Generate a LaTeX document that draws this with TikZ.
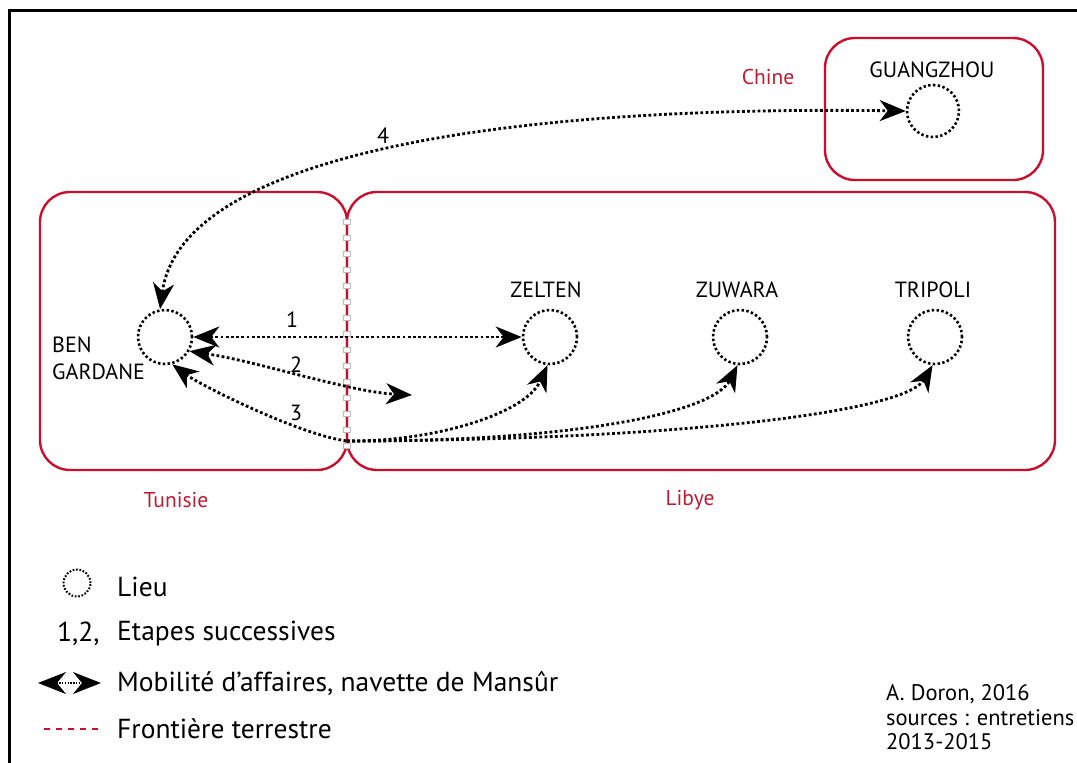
\documentclass[tikz,border=0pt]{standalone}
\usepackage{fontspec}
\setmainfont{PT Sans}
\usetikzlibrary{arrows.meta}
\definecolor{bred}{RGB}{200,16,46}
\definecolor{lred}{RGB}{185,30,52}
\begin{document}
\begin{tikzpicture}[x=1pt,y=-1pt,
  regionbox/.style={draw=bred, line width=2.4pt, rounded corners=30pt, rectangle, inner sep=0pt},
  place/.style={circle, draw, line width=2.6pt, dash pattern=on 2.4pt off 2.4pt, minimum size=54pt, inner sep=0pt},
  mob/.style={line width=2.8pt, dash pattern=on 2.8pt off 2.4pt},
  bigtip/.tip={Stealth[length=26pt,width=21pt,inset=8pt]},
  bsq/.style={rectangle, draw=gray!55, fill=white, line width=0.4pt, minimum width=7pt, minimum height=5pt, inner sep=0pt},
  lbl/.style={font=\fontsize{22}{26}\selectfont, inner sep=0pt},
  rlbl/.style={font=\fontsize{21.5}{26}\selectfont, text=lred, inner sep=0pt},
  leg/.style={font=\fontsize{27.5}{32}\selectfont, inner sep=0pt, anchor=west},
  cred/.style={font=\fontsize{22.5}{26}\selectfont, inner sep=0pt, anchor=west}
]
\useasboundingbox (0,0) rectangle (1077,763);
% frame
\draw[line width=3pt] (9,763) -- (9,10) -- (1077,10);

% regions
\node[regionbox, minimum width=307pt, minimum height=278pt] (tun) at (193.5,331) {};
\node[regionbox, minimum width=708pt, minimum height=278pt] (lib) at (701,331) {};
\node[regionbox, minimum width=218pt, minimum height=142pt] (chn) at (934,109) {};
\foreach \yy in {222,238,...,446} \node[bsq] at (347,\yy) {};

\node[rlbl] (tchine) at (768,77) {Chine};
\node[rlbl] (ttun) at (176,500) {Tunisie};
\node[rlbl] (tlib) at (690,500) {Libye};

% places
\node[place] (bg) at (165,337) {};
\node[place] (zel) at (550,337) {};
\node[place] (zuw) at (740,337) {};
\node[place] (tri) at (935,337) {};
\node[place, minimum size=52pt] (gz) at (933,111) {};

\node[lbl, anchor=west] (tben) at (52,345) {BEN};
\node[lbl, anchor=west] (tgar) at (52,372) {GARDANE};
\node[lbl] (tzel) at (546,290) {ZELTEN};
\node[lbl] (tzuw) at (737,290) {ZUWARA};
\node[lbl] (ttri) at (933,290) {TRIPOLI};
\node[lbl] (tgz) at (932,70) {GUANGZHOU};

% connectors
\coordinate (a2end) at (412,395);
\coordinate (j) at (347,441);
\draw[mob, bigtip-bigtip] (bg.east) -- (zel.west);
\draw[mob, bigtip-bigtip] (bg.-30) .. controls (260,362) and (350,392) .. (a2end);
\draw[mob, bigtip-] (bg.-75) .. controls (200,385) and (300,435) .. (j);
\draw[mob, -bigtip] (j) .. controls (430,442) and (525,415) .. (zel.-95);
\draw[mob, -bigtip] (j) .. controls (560,442) and (712,415) .. (zuw.-95);
\draw[mob, -bigtip] (j) .. controls (680,440) and (905,412) .. (tri.-95);
\draw[mob, bigtip-bigtip] (bg.100) .. controls (180,160) and (480,105) .. (gz.west);

\node[lbl] (n1) at (292,320) {1};
\node[lbl] (n2) at (296,365) {2};
\node[lbl] (n3) at (296,413) {3};
\node[lbl] (n4) at (383,136) {4};

% legend
\node[circle, draw, line width=2pt, dash pattern=on 1.7pt off 1.7pt, minimum size=27pt, inner sep=0pt] (lg1) at (77,583) {};
\node[leg] (tl1) at (117,587) {Lieu};
\node[leg] (tl2a) at (57,634) {1,2,};
\node[leg] (tl2) at (117,634) {Etapes successives};
\coordinate (la) at (38,683);
\coordinate (lb) at (101,683);
\draw[line width=1.4pt, dash pattern=on 1.4pt off 1.4pt, {Stealth[length=28pt,width=22pt,inset=9pt]}-{Stealth[length=28pt,width=22pt,inset=9pt]}] (la) -- (lb);
\node[leg] (tl3) at (117,683) {Mobilité d’affaires, navette de Mansûr};
\coordinate (lc) at (44,729);
\coordinate (ld) at (102,729);
\draw[bred, line width=2.5pt, dash pattern=on 6pt off 6pt] (lc) -- (ld);
\node[leg] (tl4) at (117,729) {Frontière terrestre};

% credits
\node[cred] (c1) at (886,694) {A. Doron, 2016};
\node[cred] (c2) at (886,718) {sources : entretiens};
\node[cred] (c3) at (886,742) {2013-2015};
\end{tikzpicture}
\end{document}
